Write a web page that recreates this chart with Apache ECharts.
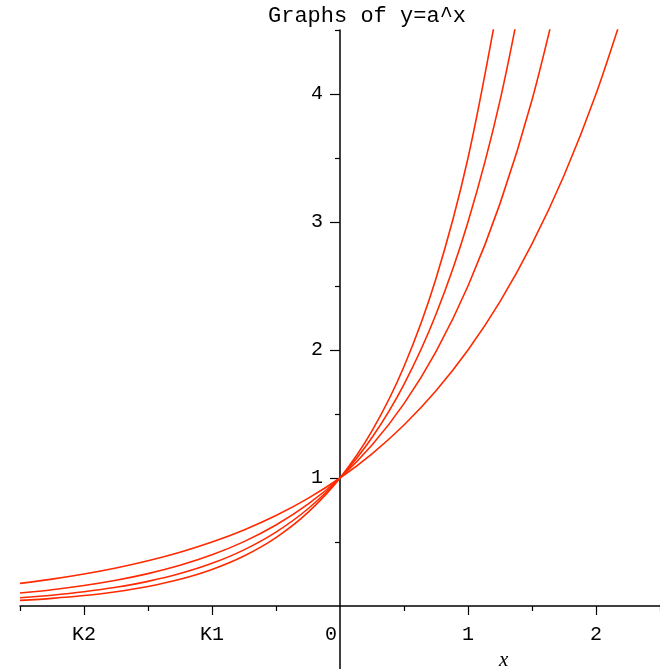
<!DOCTYPE html>
<html>
<head>
<meta charset="utf-8">
<script src="https://cdn.jsdelivr.net/npm/echarts@6/dist/echarts.min.js"></script>
<style>
html,body{margin:0;padding:0;background:#fff;}
#chart{width:660px;height:669px;}
</style>
</head>
<body>
<div id="chart"></div>
<script>
// sample x positions
const xs = [-2.5,-2.25,-2,-1.75,-1.5,-1.25,-1,-0.75,-0.5,-0.25,0,0.25,0.5,0.75,1,1.25,1.5,1.75,2,2.25];
// values (a = 2, 2.5, 3, 3.5)
const yA2   = [0.1768,0.2102,0.25,0.2973,0.3536,0.4204,0.5,0.5946,0.7071,0.8409,1,1.1892,1.4142,1.6818,2,2.3784,2.8284,3.3636,4,4.7568];
const yA25  = [0.1012,0.1272,0.16,0.2012,0.2530,0.3181,0.4,0.5030,0.6325,0.7953,1,1.2574,1.5811,1.9882,2.5,3.1436,3.9528,4.9705];
const yA3   = [0.0642,0.0844,0.1111,0.1462,0.1925,0.2533,0.3333,0.4387,0.5774,0.7598,1,1.3161,1.7321,2.2795,3,3.9482,5.1962];
const yA35  = [0.0436,0.0597,0.0816,0.1117,0.1527,0.2089,0.2857,0.3908,0.5345,0.7311,1,1.3678,1.8708,2.5589,3.5,4.7873];

const xMajorTicks = [-2,-1,1,2];
const xMinorTicks = [-2.5,-1.5,-0.5,0.5,1.5,2.5];
const xLabelValues = [-2,-1,0,1,2];
const xLabelTexts = ['K2','K1','0','1','2'];
const yMajorTicks = [1,2,3,4];
const yMinorTicks = [0.5,1.5,2.5,3.5,4.5];

const titleText = 'Graphs of y=a^x';
const xName = 'x';

const pair = (ys) => ys.map((y, i) => [xs[i], y]);
const red = '#ff2a00';
const mono = '"Liberation Mono", "DejaVu Sans Mono", monospace';
const axisLineStyle = { color: '#000', width: 1.5 };
const tickStyle = { color: '#000', width: 1.2 };

// grid geometry: x axis crosses at y=0, y axis at x=0
const gridLeft = 20, gridTop = 30, gridW = 640, gridH = 640;
const xMin = -2.5, xMax = 2.5, yMin = -0.5, yMax = 4.5;
const xAxisOffset = -gridH * (0 - yMin) / (yMax - yMin);   // move x axis up to y=0
const yAxisOffset = -gridW * (0 - xMin) / (xMax - xMin);   // move y axis right to x=0

const chart = echarts.init(document.getElementById('chart'), null, { renderer: 'canvas' });
chart.setOption({
  animation: false,
  backgroundColor: '#fff',
  title: [
    { text: titleText, left: 268, top: 5, padding: 0, textStyle: { fontFamily: mono, fontSize: 22, fontWeight: 'normal', color: '#000' } },
    { text: xName, left: 499, top: 650, padding: 0, textStyle: { fontFamily: '"Liberation Serif", serif', fontStyle: 'italic', fontSize: 21, fontWeight: 'normal', color: '#000' } }
  ],
  grid: { left: gridLeft, top: gridTop, width: gridW, height: gridH, outerBoundsMode: 'none' },
  xAxis: [
    {
      type: 'value', min: xMin, max: xMax, interval: 0.5, position: 'bottom', offset: xAxisOffset,
      axisLine: { show: true, onZero: false, lineStyle: axisLineStyle },
      axisTick: { show: true, customValues: xMajorTicks, length: 9, lineStyle: tickStyle },
      axisLabel: {
        show: true, customValues: xLabelValues, margin: 19,
        fontFamily: mono, fontSize: 20, color: '#000',
        formatter: (v) => {
          const i = xLabelValues.indexOf(v);
          const t = i >= 0 ? xLabelTexts[i] : '';
          return v === 0 ? '{z|' + t + '}' : t;
        },
        rich: { z: { fontFamily: mono, fontSize: 20, color: '#000', padding: [0, 18, 0, 0] } }
      },
      splitLine: { show: false }
    },
    {
      type: 'value', min: xMin, max: xMax, interval: 0.5, position: 'bottom', offset: xAxisOffset,
      axisLine: { show: false, onZero: false },
      axisTick: { show: true, customValues: xMinorTicks, length: 5, lineStyle: tickStyle },
      axisLabel: { show: false },
      splitLine: { show: false }
    }
  ],
  yAxis: [
    {
      type: 'value', min: yMin, max: yMax, interval: 0.5, position: 'left', offset: yAxisOffset,
      axisLine: { show: true, onZero: false, lineStyle: axisLineStyle },
      axisTick: { show: true, customValues: yMajorTicks, length: 10, lineStyle: tickStyle },
      axisLabel: { show: true, customValues: yMajorTicks, margin: 17, fontFamily: mono, fontSize: 20, color: '#000' },
      splitLine: { show: false }
    },
    {
      type: 'value', min: yMin, max: yMax, interval: 0.5, position: 'left', offset: yAxisOffset,
      axisLine: { show: false, onZero: false },
      axisTick: { show: true, customValues: yMinorTicks, length: 5, lineStyle: tickStyle },
      axisLabel: { show: false },
      splitLine: { show: false }
    }
  ],
  series: [yA2, yA25, yA3, yA35].map((ys) => ({
    type: 'line',
    xAxisIndex: 0, yAxisIndex: 0,
    data: pair(ys),
    smooth: 0.3,
    showSymbol: false,
    clip: true,
    lineStyle: { color: red, width: 1.6 },
    z: 1
  }))
});
</script>
</body>
</html>
